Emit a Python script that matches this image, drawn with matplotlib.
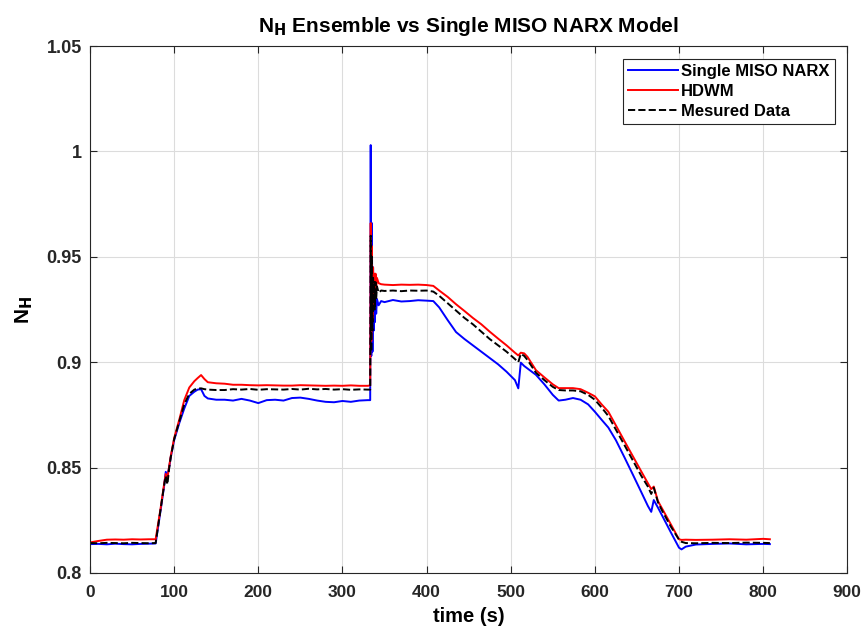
import numpy as np
import matplotlib
matplotlib.use("Agg")
import matplotlib.pyplot as plt

plt.rcParams['font.family'] = ['Liberation Sans', 'DejaVu Sans']
plt.rcParams['font.weight'] = 'bold'

# --- Data ---
time_s = [0, 10, 20, 30, 40, 50, 60, 70, 78, 84,
          88, 90, 92, 94, 96, 100, 106, 112, 118, 124,
          128, 132, 136, 140, 150, 160, 170, 180, 190, 200,
          210, 220, 230, 240, 250, 260, 270, 280, 290, 300,
          310, 320, 330, 333, 333.6, 334.3, 335, 335.7, 336.4, 337.1,
          337.8, 338.5, 339.3, 340.1, 341, 343, 346, 350, 360, 370,
          380, 390, 400, 408, 415, 425, 435, 445, 455, 465,
          475, 485, 495, 505, 509, 512, 516, 520, 530, 540,
          550, 557, 565, 574, 583, 592, 600, 608, 616, 625,
          635, 645, 655, 663, 667, 670, 675, 680, 690, 700,
          703, 708, 720, 740, 760, 780, 800, 808]

single_narx = [0.8137, 0.8138, 0.8136, 0.8139, 0.8137, 0.8136, 0.8138, 0.8139, 0.8140, 0.8300,
               0.8410, 0.8480, 0.8460, 0.8500, 0.8550, 0.8630, 0.8710, 0.8780, 0.8840, 0.8860,
               0.8870, 0.8872, 0.8840, 0.8828, 0.8822, 0.8822, 0.8818, 0.8826, 0.8818, 0.8806,
               0.8820, 0.8822, 0.8818, 0.8830, 0.8832, 0.8826, 0.8818, 0.8812, 0.8810, 0.8816,
               0.8812, 0.8818, 0.8820, 0.8820, 1.0030, 0.9030, 0.9660, 0.9050, 0.9450, 0.9150,
               0.9350, 0.9190, 0.9320, 0.9230, 0.9300, 0.9270, 0.9290, 0.9285, 0.9295, 0.9288,
               0.9290, 0.9294, 0.9292, 0.9290, 0.9260, 0.9200, 0.9143, 0.9110, 0.9080, 0.9050,
               0.9020, 0.8990, 0.8955, 0.8915, 0.8876, 0.8998, 0.8982, 0.8970, 0.8940, 0.8895,
               0.8845, 0.8818, 0.8822, 0.8830, 0.8822, 0.8800, 0.8765, 0.8727, 0.8690, 0.8630,
               0.8550, 0.8468, 0.8385, 0.8318, 0.8290, 0.8346, 0.8310, 0.8272, 0.8195, 0.8120,
               0.8112, 0.8125, 0.8135, 0.8138, 0.8140, 0.8136, 0.8138, 0.8137]

hdwm = [0.8145, 0.8152, 0.8158, 0.8159, 0.8158, 0.8160, 0.8159, 0.8160, 0.8160, 0.8310,
        0.8420, 0.8470, 0.8450, 0.8505, 0.8555, 0.8640, 0.8726, 0.8820, 0.8880, 0.8910,
        0.8925, 0.8939, 0.8920, 0.8905, 0.8900, 0.8898, 0.8893, 0.8893, 0.8891, 0.8890,
        0.8891, 0.8890, 0.8889, 0.8889, 0.8891, 0.8890, 0.8889, 0.8888, 0.8889, 0.8888,
        0.8890, 0.8888, 0.8888, 0.8890, 0.9660, 0.9100, 0.9550, 0.9200, 0.9450, 0.9300,
        0.9420, 0.9320, 0.9420, 0.9350, 0.9400, 0.9375, 0.9370, 0.9368, 0.9366, 0.9368,
        0.9367, 0.9368, 0.9366, 0.9362, 0.9340, 0.9310, 0.9275, 0.9243, 0.9210, 0.9180,
        0.9145, 0.9112, 0.9080, 0.9045, 0.9032, 0.9045, 0.9042, 0.9025, 0.8962, 0.8928,
        0.8895, 0.8877, 0.8877, 0.8877, 0.8872, 0.8855, 0.8838, 0.8800, 0.8765, 0.8700,
        0.8627, 0.8555, 0.8483, 0.8426, 0.8398, 0.8410, 0.8341, 0.8305, 0.8233, 0.8160,
        0.8157, 0.8158, 0.8157, 0.8158, 0.8160, 0.8158, 0.8162, 0.8160]

measured = [0.8142, 0.8141, 0.8143, 0.8142, 0.8141, 0.8143, 0.8142, 0.8141, 0.8142, 0.8305,
            0.8415, 0.8460, 0.8420, 0.8495, 0.8550, 0.8635, 0.8718, 0.8800, 0.8850, 0.8870,
            0.8875, 0.8876, 0.8872, 0.8870, 0.8868, 0.8868, 0.8872, 0.8870, 0.8873, 0.8869,
            0.8872, 0.8871, 0.8870, 0.8873, 0.8870, 0.8874, 0.8871, 0.8873, 0.8870, 0.8872,
            0.8869, 0.8871, 0.8870, 0.8870, 0.9600, 0.9050, 0.9500, 0.9150, 0.9400, 0.9250,
            0.9380, 0.9250, 0.9380, 0.9300, 0.9360, 0.9330, 0.9340, 0.9338, 0.9340, 0.9337,
            0.9340, 0.9339, 0.9340, 0.9335, 0.9315, 0.9280, 0.9245, 0.9210, 0.9180, 0.9145,
            0.9110, 0.9080, 0.9050, 0.9015, 0.9000, 0.9040, 0.9030, 0.9010, 0.8950, 0.8915,
            0.8883, 0.8868, 0.8866, 0.8866, 0.8862, 0.8845, 0.8822, 0.8785, 0.8745, 0.8680,
            0.8608, 0.8535, 0.8462, 0.8410, 0.8375, 0.8405, 0.8335, 0.8295, 0.8222, 0.8158,
            0.8148, 0.8142, 0.8141, 0.8143, 0.8142, 0.8144, 0.8143, 0.8142]

x_ticks = np.arange(0, 901, 100)
y_ticks = [0.8, 0.85, 0.9, 0.95, 1.0, 1.05]
y_tick_labels = ['0.8', '0.85', '0.9', '0.95', '1', '1.05']

# --- Plot ---
fig = plt.figure(figsize=(8.63, 6.33), dpi=100)
ax = fig.add_axes([0.1043, 0.0948, 0.8775, 0.8325])

ax.plot(time_s, single_narx, color='#0000ff', lw=1.4, label='Single MISO NARX')
ax.plot(time_s, hdwm, color='#ff0000', lw=1.4, label='HDWM')
ax.plot(time_s, measured, color='black', lw=1.4, ls='--', label='Mesured Data')

ax.set_xlim(0, 900)
ax.set_ylim(0.8, 1.05)
ax.set_xticks(x_ticks)
ax.set_yticks(y_ticks)
ax.set_yticklabels(y_tick_labels)
ax.grid(True, color='#dcdcdc', lw=0.8)
ax.set_axisbelow(True)
ax.tick_params(direction='in', top=True, right=True, labelsize=13, colors='#262626', length=5)
ax.tick_params(axis='x', pad=9, labelsize=12.5)
ax.tick_params(axis='y', pad=6)
for lab in ax.get_xticklabels() + ax.get_yticklabels():
    lab.set_fontweight('bold')
for sp in ax.spines.values():
    sp.set_color('#262626')
    sp.set_linewidth(0.8)

ax.set_xlabel('time (s)', fontsize=14.5, fontweight='bold', labelpad=5)
ax.set_ylabel(r'N$_\mathbf{H}$', fontsize=15, fontweight='bold', labelpad=8)
ax.set_title(r'N$_\mathbf{H}$ Ensemble vs Single MISO NARX Model', fontsize=15, fontweight='bold', pad=10)

leg = ax.legend(loc='upper right', fontsize=12, fancybox=False, framealpha=1,
                edgecolor='#262626', borderpad=0.3, labelspacing=0.3, handlelength=3.0,
                handletextpad=0.2, borderaxespad=0.75)
for t in leg.get_texts():
    t.set_fontweight('bold')
leg.get_frame().set_linewidth(0.8)

fig.savefig('out.png', dpi=100)
